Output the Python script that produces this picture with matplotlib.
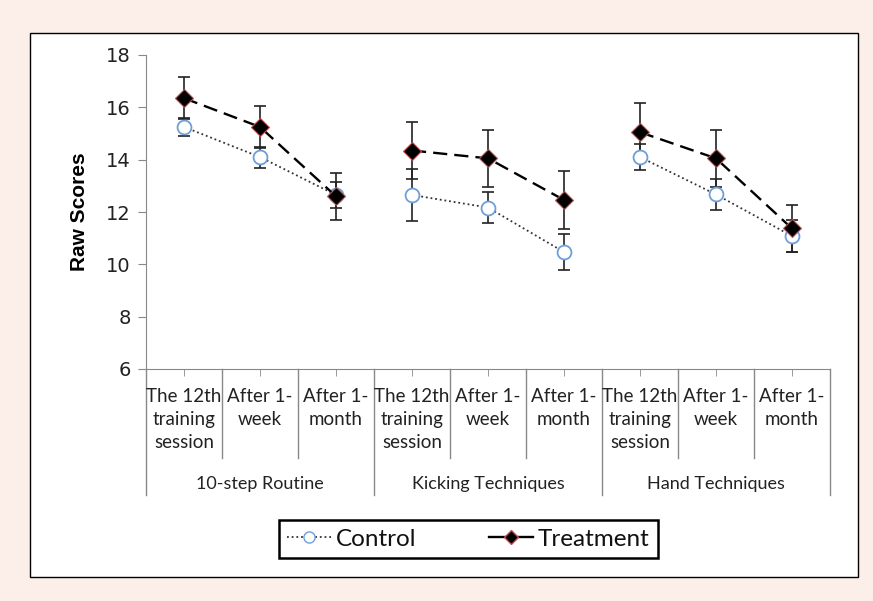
"""Raw scores of control vs treatment groups across three skill tests."""

import matplotlib.pyplot as plt
from matplotlib.lines import Line2D
from matplotlib.patches import Rectangle

groups = ["10-step Routine", "Kicking Techniques", "Hand Techniques"]
phases = ["The 12th\ntraining\nsession", "After 1-\nweek", "After 1-\nmonth"]

control_mean = [15.25, 14.1, 12.65, 12.65, 12.17, 10.47, 14.1, 12.67, 11.08]
control_err = [0.35, 0.4, 0.5, 1.0, 0.6, 0.7, 0.5, 0.6, 0.6]
treatment_mean = [16.35, 15.25, 12.6, 14.35, 14.05, 12.46, 15.05, 14.05, 11.37]
treatment_err = [0.8, 0.8, 0.9, 1.1, 1.1, 1.1, 1.1, 1.1, 0.9]

W, H = 873, 601
fig = plt.figure(figsize=(W / 100, H / 100), dpi=100)
fig.patch.set_facecolor("#fcefe9")
fig.patches.append(Rectangle((30 / W, 1 - 577 / H), 828 / W, 544 / H,
                             transform=fig.transFigure, facecolor="white",
                             edgecolor="black", linewidth=1.0, zorder=-5))

ax = fig.add_axes([146 / W, 1 - 369 / H, 684 / W, 314 / H])
ax.set_facecolor("none")

n_phase = len(phases)
for g in range(len(groups)):
    xs = list(range(g * n_phase, (g + 1) * n_phase))
    sl = slice(g * n_phase, (g + 1) * n_phase)
    ax.errorbar(xs, control_mean[sl], yerr=control_err[sl], fmt="none",
                ecolor="#222222", elinewidth=1.2, capsize=4, capthick=1.2, zorder=2)
    ax.errorbar(xs, treatment_mean[sl], yerr=treatment_err[sl], fmt="none",
                ecolor="#222222", elinewidth=1.2, capsize=4, capthick=1.2, zorder=2)
    ax.plot(xs, control_mean[sl], color="#333333", linestyle=(0, (1, 1.6)),
            linewidth=1.3, marker="o", markersize=10, markerfacecolor="white",
            markeredgecolor="#6f9fd8", markeredgewidth=1.3, zorder=3)
    ax.plot(xs, treatment_mean[sl], color="black", linestyle=(0, (6, 3)),
            linewidth=1.7, marker="D", markersize=9, markerfacecolor="black",
            markeredgecolor="#c05050", markeredgewidth=0.8, zorder=4)

ax.set_xlim(-0.5, len(control_mean) - 0.5)
ax.set_ylim(6, 18)
ax.set_yticks(range(6, 19, 2))
ax.tick_params(axis="y", labelsize=14, length=6, color="#888888", pad=5,
               labelcolor="#222222")
for side in ("top", "right"):
    ax.spines[side].set_visible(False)
for side in ("left", "bottom"):
    ax.spines[side].set_color("#888888")

n_cat = len(control_mean)
ax.set_xticks([i - 0.5 for i in range(n_cat + 1)])
ax.set_xticklabels([])
ax.tick_params(axis="x", length=0)
ax.set_xticks(range(n_cat), minor=True)
ax.tick_params(axis="x", which="minor", length=5, color="#888888", direction="out")

xt = ax.get_xaxis_transform()
for i in range(n_cat + 1):
    bottom = -0.40 if i % n_phase == 0 else -0.283
    ax.plot([i - 0.5, i - 0.5], [0, bottom], transform=xt, color="#888888",
            linewidth=1.0, clip_on=False)

font = "Lato"
for i in range(n_cat):
    ax.text(i, -0.06, phases[i % n_phase], transform=xt, ha="center", va="top",
            fontsize=13.5, family=font, linespacing=1.45, color="#222222")
for g, name in enumerate(groups):
    ax.text(g * n_phase + 1, -0.365, name, transform=xt, ha="center",
            va="center", fontsize=13, family=font, color="#222222")

ax.set_ylabel("Raw Scores", fontsize=15, fontweight="bold", family="Liberation Sans",
              labelpad=12)

handles = [
    Line2D([], [], color="#333333", linestyle=(0, (1, 1.6)), linewidth=1.3, marker="o",
           markersize=8, markerfacecolor="white", markeredgecolor="#6f9fd8"),
    Line2D([], [], color="black", linestyle="-", linewidth=1.7, marker="D",
           markersize=7, markerfacecolor="black", markeredgecolor="#c05050"),
]
leg = fig.legend(handles, ["Control", "Treatment"], loc="center",
                 bbox_to_anchor=(468.5 / W, 1 - 539 / H), ncol=2, frameon=True,
                 fancybox=False, edgecolor="black", framealpha=1.0, handlelength=1.8,
                 columnspacing=3.0, handletextpad=0.2, borderpad=0.35,
                 borderaxespad=0, prop={"family": font, "size": 17.5})
leg.get_frame().set_linewidth(1.8)
for t in leg.get_texts():
    t.set_color("#111111")

fig.savefig("out.png", dpi=100)
